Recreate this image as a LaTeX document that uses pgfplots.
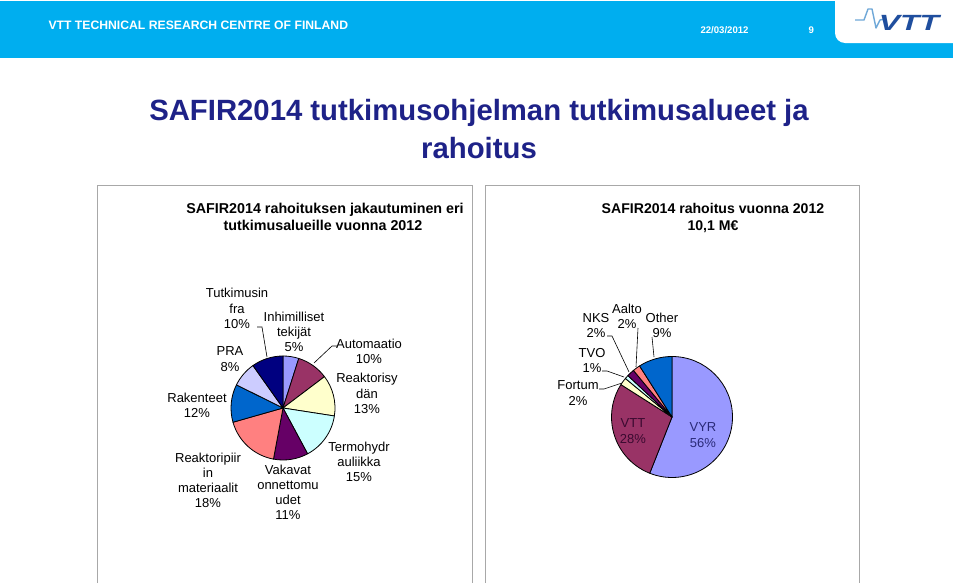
\documentclass[border=0pt]{standalone}
\usepackage{fontspec}
\setmainfont{Liberation Sans}
\usepackage{graphicx}
\usepackage{pgfplots}
\pgfplotsset{compat=1.18}

% Excel default chart palette
\definecolor{c1}{HTML}{9999FF}
\definecolor{c2}{HTML}{993366}
\definecolor{c3}{HTML}{FFFFCC}
\definecolor{c4}{HTML}{CCFFFF}
\definecolor{c5}{HTML}{660066}
\definecolor{c6}{HTML}{FF8080}
\definecolor{c7}{HTML}{0066CC}
\definecolor{c8}{HTML}{CCCCFF}
\definecolor{c9}{HTML}{000080}
\definecolor{vttbar}{HTML}{00AEEF}
\definecolor{vttlogo}{HTML}{1F4E9E}
\definecolor{vttwave}{HTML}{6FA8D8}
\definecolor{titleblue}{HTML}{1E2288}
\definecolor{boxgray}{HTML}{A8A8A8}
\definecolor{vttlab}{HTML}{3A0A30}
\definecolor{vyrlab}{HTML}{2A2A78}

\newcommand\lab{\fontsize{13}{15.2}\selectfont}

% pie: centre x, centre y, radius (pt), list value/colour; clockwise from 12 o'clock
\newcommand\piechart[4]{%
  \gdef\pietotal{0}%
  \foreach \v/\col in {#4}{\pgfmathsetmacro\tmpv{\pietotal+\v}\global\let\pietotal\tmpv}%
  \gdef\piecum{0}%
  \foreach \v/\col in {#4}{%
    \pgfmathsetmacro\sa{90-360*(\piecum/\pietotal)}%
    \pgfmathsetmacro\sb{90-360*((\piecum+\v)/\pietotal)}%
    \edef\temp{\noexpand\filldraw[fill=\col, draw=black, line width=0.8pt, line join=round]
      (axis cs:#1,#2) -- ++(\sa:#3pt) arc[start angle=\sa, end angle=\sb, radius=#3pt] -- cycle;}%
    \temp
    \pgfmathsetmacro\tmpv{\piecum+\v}\global\let\piecum\tmpv
  }%
}

\begin{document}
\begin{tikzpicture}
\begin{axis}[x=1pt, y=1pt, y dir=reverse,
  xmin=0, xmax=959, ymin=0, ymax=583,
  hide axis, clip=false, scale only axis]

  \fill[white] (axis cs:0,0) rectangle (axis cs:959,583);

  % header
  \fill[vttbar] (axis cs:0,0.5) rectangle (axis cs:953,58);
  \fill[white] (axis cs:959,0) -- (axis cs:835,0) -- (axis cs:835,33)
     arc[start angle=180, end angle=270, radius=10pt] -- (axis cs:959,43) -- cycle;
  \node[anchor=base west, text=white, font=\fontsize{12.2}{14}\selectfont\bfseries]
    at (axis cs:45,29.5) {VTT TECHNICAL RESEARCH CENTRE OF FINLAND};
  \node[anchor=base west, text=white, font=\fontsize{9.6}{11}\selectfont\bfseries]
    at (axis cs:697,33) {22/03/2012};
  \node[anchor=base west, text=white, font=\fontsize{9.6}{11}\selectfont\bfseries]
    at (axis cs:805,33) {9};
  \draw[vttwave, line width=1.4pt, line join=round]
    (axis cs:855,20) -- (axis cs:864,20) -- (axis cs:868,9) -- (axis cs:872,9)
    -- (axis cs:876,28) -- (axis cs:880,20) -- (axis cs:885,19);
  \node[text=vttlogo, font=\fontsize{22}{22}\selectfont\bfseries\itshape, inner sep=0pt]
    at (axis cs:909,23) {\scalebox{1.45}[1]{VTT}};

  % slide title
  \node[anchor=base, text=titleblue, font=\fontsize{29.3}{31}\selectfont\bfseries]
    at (axis cs:479,120) {SAFIR2014 tutkimusohjelman tutkimusalueet ja};
  \node[anchor=base, text=titleblue, font=\fontsize{29.3}{31}\selectfont\bfseries]
    at (axis cs:479,158) {rahoitus};

  % chart frames
  \draw[boxgray, line width=1pt] (axis cs:97,583) -- (axis cs:97,185) -- (axis cs:472,185) -- (axis cs:472,583);
  \draw[boxgray, line width=1pt] (axis cs:485,583) -- (axis cs:485,185) -- (axis cs:859,185) -- (axis cs:859,583);

  % chart titles
  \node[anchor=base, font=\fontsize{14.3}{16}\selectfont\bfseries] at (axis cs:325,213)
    {SAFIR2014 rahoituksen jakautuminen eri};
  \node[anchor=base, font=\fontsize{14.3}{16}\selectfont\bfseries] at (axis cs:323,230)
    {tutkimusalueille vuonna 2012};
  \node[anchor=base, font=\fontsize{14.1}{16}\selectfont\bfseries] at (axis cs:713,213)
    {SAFIR2014 rahoitus vuonna 2012};
  \node[anchor=base, font=\fontsize{14.1}{16}\selectfont\bfseries] at (axis cs:713,230)
    {10,1 M€};

  % left pie: research areas 2012 (%)
  \piechart{283}{408}{52}{5/c1, 10/c2, 13/c3, 15/c4, 11/c5, 18/c6, 12/c7, 8/c8, 10/c9}

  \draw[line width=0.6pt] (axis cs:257,327) -- (axis cs:262,327) -- (axis cs:267,357);
  \draw[line width=0.6pt] (axis cs:337,346) -- (axis cs:332,346) -- (axis cs:314,363);
  \node[font=\lab, align=center] at (axis cs:237,308.5) {Tutkimusin\\fra\\10\%};
  \node[font=\lab, align=center] at (axis cs:294,332) {Inhimilliset\\tekijät\\5\%};
  \node[font=\lab, align=center] at (axis cs:369,351) {Automaatio\\10\%};
  \node[font=\lab, align=center] at (axis cs:367,393.5) {Reaktorisy\\dän\\13\%};
  \node[font=\lab, align=center] at (axis cs:359,462) {Termohydr\\auliikka\\15\%};
  \node[font=\lab, align=center] at (axis cs:288,492.5) {Vakavat\\onnettomu\\udet\\11\%};
  \node[font=\lab, align=center] at (axis cs:208,480.5) {Reaktoripiir\\in\\materiaalit\\18\%};
  \node[font=\lab, align=center] at (axis cs:197,405.5) {Rakenteet\\12\%};
  \node[font=\lab, align=center] at (axis cs:230,359) {PRA\\8\%};

  % right pie: funding 2012 (%)
  \piechart{672}{417}{60.5}{56/c1, 28/c2, 2/c3, 1/c4, 2/c5, 2/c6, 9/c7}

  \draw[line width=0.6pt] (axis cs:607,336) -- (axis cs:612,336) -- (axis cs:629,372);
  \draw[line width=0.6pt] (axis cs:638,328) -- (axis cs:636,367);
  \draw[line width=0.6pt] (axis cs:652,337) -- (axis cs:654,357);
  \draw[line width=0.6pt] (axis cs:602,371) -- (axis cs:607,371) -- (axis cs:624,377);
  \draw[line width=0.6pt] (axis cs:599,389) -- (axis cs:604,389) -- (axis cs:622,383);
  \node[font=\lab, align=center] at (axis cs:596,325.5) {NKS\\2\%};
  \node[font=\lab, align=center] at (axis cs:627,316.5) {Aalto\\2\%};
  \node[font=\lab, align=center] at (axis cs:662,325.5) {Other\\9\%};
  \node[font=\lab, align=center] at (axis cs:592,360.5) {TVO\\1\%};
  \node[font=\lab, align=center] at (axis cs:578,393) {Fortum\\2\%};
  \node[font=\lab, align=center, text=vttlab] at (axis cs:633,431) {VTT\\28\%};
  \node[font=\lab, align=center, text=vyrlab] at (axis cs:703,435) {VYR\\56\%};
\end{axis}
\end{tikzpicture}
\end{document}
